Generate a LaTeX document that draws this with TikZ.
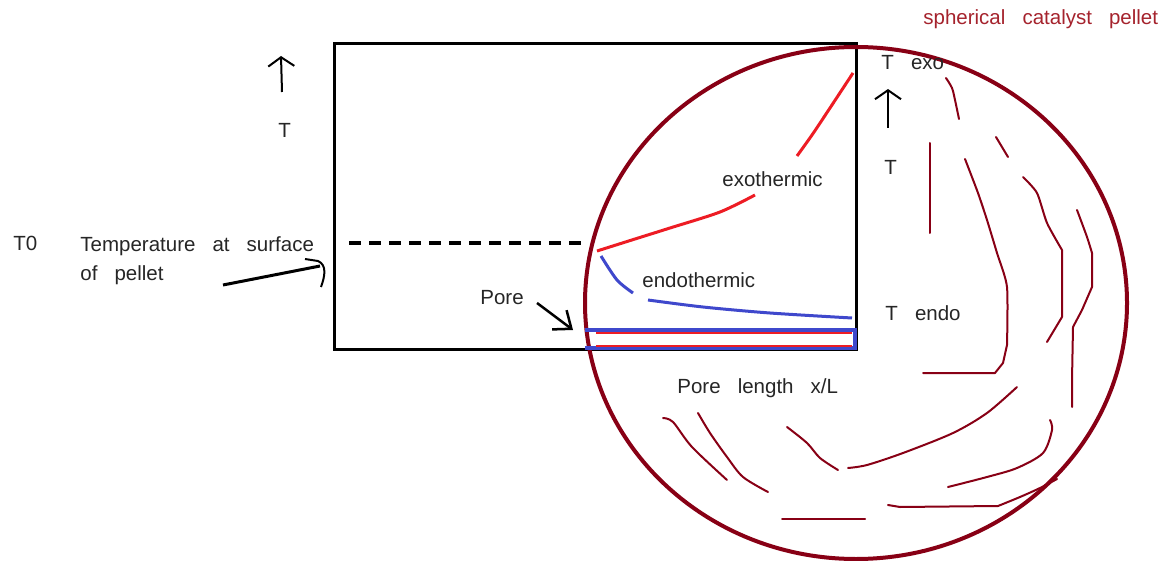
\documentclass[tikz,border=0pt]{standalone}
\usepackage{fontspec}
\setmainfont{Liberation Sans}[WordSpace=3]
\usetikzlibrary{arrows.meta}
\usepackage{xcolor}
\definecolor{pelletred}{RGB}{136,0,21}
\definecolor{paintred}{RGB}{237,28,36}
\definecolor{paintblue}{RGB}{63,72,204}
\definecolor{titlered}{RGB}{165,35,45}

\begin{document}
\begin{tikzpicture}[x=0.5pt, y=-0.5pt,
	lbl/.style={anchor=base west, inner sep=0pt, text=black!85, font=\fontsize{10.25}{14}\selectfont},
	crack/.style={pelletred, line width=1pt, line join=round, line cap=round},
	barb/.style={line width=1pt, -{Straight Barb[length=4.5pt, width=13pt, line width=1pt]}}]
	\useasboundingbox (0,0) rectangle (1167,561);
	% Plot frame
	\draw[line width=1.5pt] (334,44) rectangle (856,349);
	\draw[line width=1.75pt, dash pattern=on 6pt off 4pt] (349,243) -- (585,243);
	% Pellet outline
	\draw[pelletred, line width=2pt] (856,303) ellipse [x radius=135.5pt, y radius=128pt];
	% Cracks inside the pellet
	\draw[crack] plot[smooth, tension=0.5] coordinates {(946,78) (952,88) (955,100) (959,119)};
	\draw[crack] (930,143) -- (930,233);
	\draw[crack] (996,137) -- (1008,157);
	\draw[crack] plot[smooth, tension=0.4] coordinates {(965,159) (978,193) (987,220) (997,253) (1007,287) (1007,345)} -- (1003,363) -- (995,373) -- (923,373);
	\draw[crack] plot[smooth, tension=0.4] coordinates {(1023,177) (1037,193) (1047,223) (1062,250)} -- (1062,317) -- (1047,342);
	\draw[crack] plot[smooth, tension=0.4] coordinates {(1077,210) (1087,237) (1092,253)} -- (1092,287) -- (1082,310) -- (1073,327) -- (1072,380) -- (1072,407);
	\draw[crack] plot[smooth, tension=0.5] coordinates {(1017,387) (987,413) (953,433) (903,453) (867,465) (848,468)};
	\draw[crack] plot[smooth, tension=0.5] coordinates {(1050,420) (1052,430) (1043,453) (1017,468) (987,477) (948,487)};
	\draw[crack] plot[smooth, tension=0.5] coordinates {(1057,479) (1040,488) (1020,497) (998,506)} -- (900,507) -- (888,505);
	\draw[crack] (782,519) -- (865,519);
	\draw[crack] plot[smooth, tension=0.5] coordinates {(787,427) (807,443) (820,458) (838,470)};
	\draw[crack] plot[smooth, tension=0.5] coordinates {(698,413) (710,433) (727,457) (743,477) (768,492)};
	\draw[crack] plot[smooth, tension=0.5] coordinates {(663,418) (673,422) (692,447) (727,480)};
	% Pore
	\draw[paintblue, line width=1.75pt] (585,330) -- (855,330) -- (855,348) -- (585,348);
	\draw[paintred, line width=1pt] (596,333) -- (852,333);
	\draw[paintred, line width=1pt] (596,346) -- (852,346);
	% Temperature profiles
	\draw[paintred, line width=1.5pt] plot[smooth] coordinates {(597,251) (635,239) (670,228) (720,212) (755,195)};
	\draw[paintred, line width=1.5pt] plot[smooth] coordinates {(797,156) (812,135) (828,111) (853,73)};
	\draw[paintblue, line width=1.5pt] plot[smooth] coordinates {(601,256) (617,280) (633,293)};
	\draw[paintblue, line width=1.5pt] plot[smooth] coordinates {(648,300) (703,307) (770,313) (852,318)};
	% Labels
	\node[lbl] (tzero) at (13,251) {T0};
	\node[lbl] (tsurf) at (80,252) {Temperature at surface};
	\node[lbl] (tsurfb) at (80,280) {of pellet};
	\node[lbl] (tleft) at (278,138) {T};
	\node[lbl] (texo) at (881,70) {T exo};
	\node[lbl] (tright) at (884,175) {T};
	\node[lbl] (tendo) at (885,321) {T endo};
	\node[lbl] (exo) at (722,187) {exothermic};
	\node[lbl] (endo) at (642,288) {endothermic};
	\node[lbl] (pore) at (480,305) {Pore};
	\node[lbl] (porelen) at (677,393) {Pore length x/L};
	\node[lbl, text=titlered] (pellet) at (923,25) {spherical catalyst pellet};
	% Arrows
	\coordinate (tlefttail) at (282,92);
	\coordinate (tlefthead) at (281,56);
	\coordinate (trighttail) at (888,128);
	\coordinate (trighthead) at (888,89);
	\coordinate (poretail) at (537,303);
	\coordinate (porehead) at (573,330);
	\coordinate (tsurftail) at (223,285);
	\coordinate (tsurfhead) at (320,266);
	\draw[barb] (tlefttail) -- (tlefthead);
	\draw[barb] (trighttail) -- (trighthead);
	\draw[line width=1.25pt, -{Straight Barb[length=7.5pt, width=12pt, line width=1.25pt]}] (poretail) -- (porehead);
	\draw[line width=1.5pt] (tsurftail) -- (tsurfhead);
	\draw[line width=1pt] (305,259) -- (318,261) .. controls (327,265) and (325,276) .. (321,287);
\end{tikzpicture}
\end{document}
